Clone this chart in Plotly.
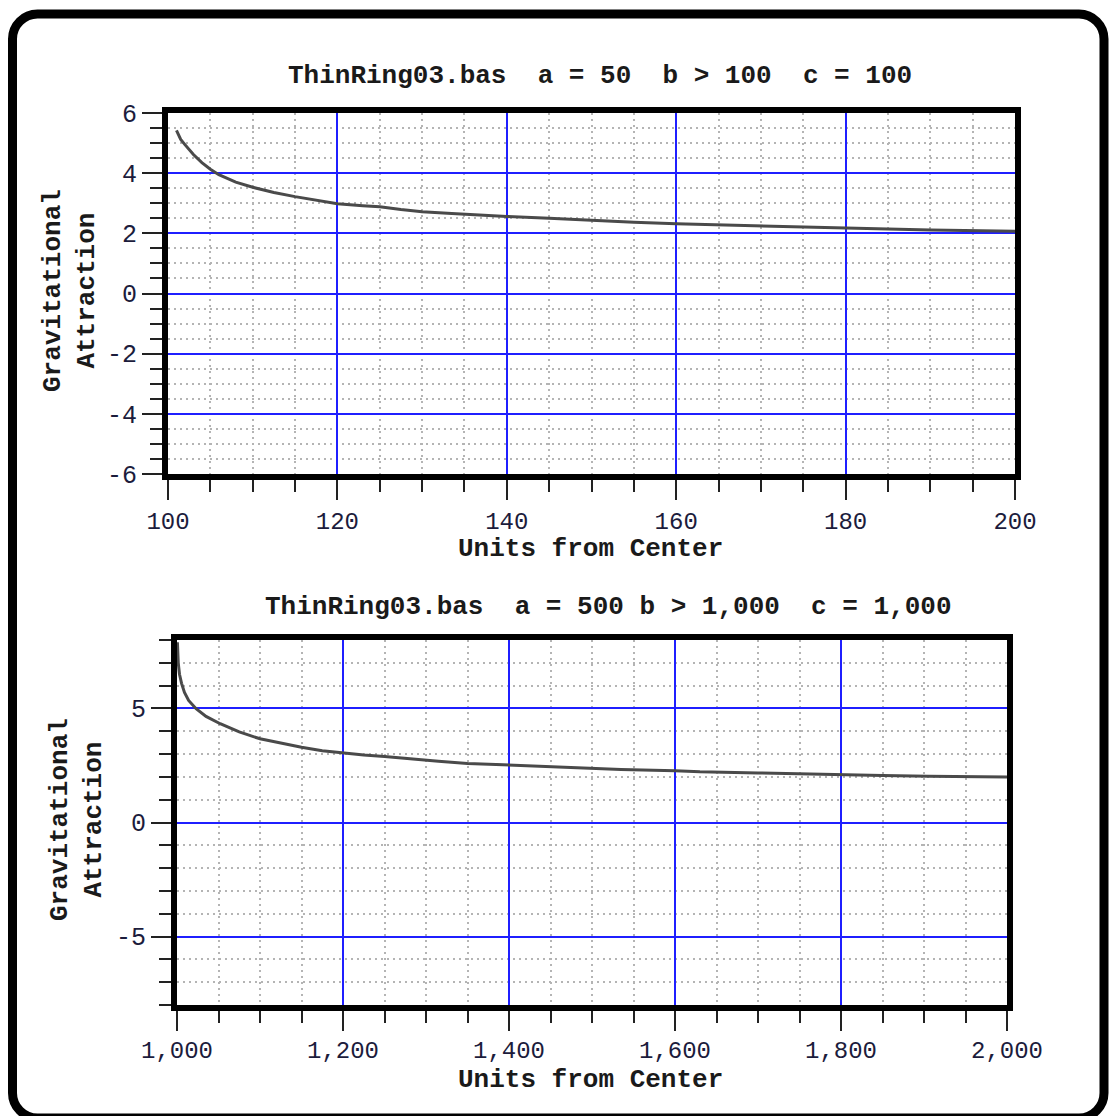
import plotly.graph_objects as go

W, H = 1109, 1116

# ---- data ----
top_title = "ThinRing03.bas  a = 50  b > 100  c = 100"
bot_title = "ThinRing03.bas  a = 500 b > 1,000  c = 1,000"
x_label = "Units from Center"
y_label = "Gravitational<br>Attraction"

top_x = [101, 101.5, 102, 103, 104, 105, 106, 107, 108, 110, 112.5, 115, 117.5, 120,
         123, 125, 127.5, 130, 133.5, 137.5, 140, 145, 150, 155, 160, 165, 170,
         175, 180, 185, 190, 195, 200]
top_y = [5.42, 5.12, 4.95, 4.62, 4.35, 4.13, 3.95, 3.82, 3.70, 3.53, 3.36, 3.22, 3.09, 2.98,
         2.92, 2.88, 2.79, 2.72, 2.66, 2.59, 2.56, 2.50, 2.43, 2.37, 2.32, 2.28, 2.24,
         2.20, 2.17, 2.14, 2.11, 2.09, 2.07]

bot_x = [1000.5, 1001.5, 1003, 1005.5, 1009, 1014, 1023, 1035, 1052, 1075, 1100, 1125,
         1150, 1175, 1200, 1225, 1250, 1280, 1315, 1350, 1400, 1465, 1535, 1600, 1630,
         1700, 1745, 1800, 1850, 1905, 1950, 2000]
bot_y = [7.9, 7.0, 6.5, 6.1, 5.7, 5.35, 4.99, 4.65, 4.33, 3.97, 3.67, 3.47,
         3.30, 3.15, 3.04, 2.96, 2.89, 2.78, 2.68, 2.59, 2.51, 2.42, 2.32, 2.27, 2.22,
         2.17, 2.13, 2.09, 2.06, 2.03, 2.01, 1.99]

top_xrange = [100, 200]
top_yrange = [-6, 6]
bot_xrange = [1000, 2000]
bot_yrange = [-8, 8]

top_yticks = [-6, -4, -2, 0, 2, 4, 6]
top_yticktext = ["-6", "-4", "-2", "0", "2", "4", "6"]
bot_yticks = [-5, 0, 5]
bot_yticktext = ["-5", "0", "5"]

# ---- styling ----
MONO = "Liberation Mono, Courier New, monospace"
TICK_COL = "#1c1c3c"
TXT_COL = "#1a1a1a"
BLUE = "#1f1fff"
MINOR_GRID = "#b4b4b4"


def px2x(p):
    return p / W


def px2y(p):
    return 1 - p / H


def axis_common(rng, dtick, minor_dtick, tick0=0, fmt=None, fsize=25):
    d = dict(
        range=rng, autorange=False, dtick=dtick, tick0=tick0,
        showline=True, linecolor="black", linewidth=6, mirror=True,
        ticks="outside", ticklen=20, tickwidth=2, tickcolor="#222222",
        showgrid=True, gridcolor=BLUE, gridwidth=2,
        zeroline=False, automargin=False,
        tickfont=dict(family=MONO, size=fsize, color=TICK_COL),
        minor=dict(dtick=minor_dtick, tick0=tick0, ticks="outside", ticklen=12,
                   tickwidth=2, tickcolor="#222222", showgrid=True,
                   gridcolor=MINOR_GRID, gridwidth=1.5, griddash="2px,4px"),
    )
    if fmt:
        d["tickformat"] = fmt
    return d


fig = go.Figure()
fig.add_trace(go.Scatter(x=top_x, y=top_y, mode="lines",
                         line=dict(color="#4a4a4a", width=3), xaxis="x", yaxis="y",
                         showlegend=False, hoverinfo="skip"))
fig.add_trace(go.Scatter(x=bot_x, y=bot_y, mode="lines",
                         line=dict(color="#4a4a4a", width=3), xaxis="x2", yaxis="y2",
                         showlegend=False, hoverinfo="skip"))

# domains from pixel geometry of the reference
top_xd = [px2x(168), px2x(1015)]
top_yd = [px2y(474), px2y(113)]
bot_xd = [px2x(177), px2x(1007)]
bot_yd = [px2y(1005), px2y(640)]

xa = axis_common(top_xrange, 20, 5, fsize=24)
xa.update(domain=top_xd, anchor="y")
ya = axis_common(top_yrange, 2, 0.5)
ya.update(domain=top_yd, anchor="x", tickmode="array", tickvals=top_yticks,
          ticktext=top_yticktext)
xa2 = axis_common(bot_xrange, 200, 50, tick0=0, fmt=",", fsize=24)
xa2.update(domain=bot_xd, anchor="y2", ticklabelstandoff=-2)
ya2 = axis_common(bot_yrange, 5, 1)
ya2.update(domain=bot_yd, anchor="x2", tickmode="array", tickvals=bot_yticks,
           ticktext=bot_yticktext)

# rounded outer frame (pixel geometry -> paper)
L, T, R, B, r = 12.5, 14, 1104, 1118, 25
k = 0.45
path = (
    f"M {px2x(L + r)},{px2y(T)} L {px2x(R - r)},{px2y(T)} "
    f"C {px2x(R - r * k)},{px2y(T)} {px2x(R)},{px2y(T + r * k)} {px2x(R)},{px2y(T + r)} "
    f"L {px2x(R)},{px2y(B - r)} "
    f"C {px2x(R)},{px2y(B - r * k)} {px2x(R - r * k)},{px2y(B)} {px2x(R - r)},{px2y(B)} "
    f"L {px2x(L + r)},{px2y(B)} "
    f"C {px2x(L + r * k)},{px2y(B)} {px2x(L)},{px2y(B - r * k)} {px2x(L)},{px2y(B - r)} "
    f"L {px2x(L)},{px2y(T + r)} "
    f"C {px2x(L)},{px2y(T + r * k)} {px2x(L + r * k)},{px2y(T)} {px2x(L + r)},{px2y(T)} Z"
)

title_font = dict(family=MONO, size=26, color=TXT_COL, weight="bold")

annotations = [
    dict(text=top_title, x=px2x(600), y=px2y(76), xref="paper", yref="paper",
         xanchor="center", yanchor="middle", showarrow=False, font=title_font),
    dict(text=bot_title, x=px2x(608), y=px2y(607), xref="paper", yref="paper",
         xanchor="center", yanchor="middle", showarrow=False, font=title_font),
    dict(text=x_label, x=px2x(590), y=px2y(549), xref="paper", yref="paper",
         xanchor="center", yanchor="middle", showarrow=False, font=title_font),
    dict(text=x_label, x=px2x(590), y=px2y(1080), xref="paper", yref="paper",
         xanchor="center", yanchor="middle", showarrow=False, font=title_font),
    dict(text=y_label, x=px2x(70), y=px2y(291), xref="paper", yref="paper",
         xanchor="center", yanchor="middle", showarrow=False, textangle=-90,
         font=title_font),
    dict(text=y_label, x=px2x(77), y=px2y(820), xref="paper", yref="paper",
         xanchor="center", yanchor="middle", showarrow=False, textangle=-90,
         font=title_font),
]

fig.update_layout(
    width=W, height=H,
    margin=dict(l=0, r=0, t=0, b=0, pad=0),
    paper_bgcolor="white", plot_bgcolor="white",
    xaxis=xa, yaxis=ya, xaxis2=xa2, yaxis2=ya2,
    annotations=annotations,
    shapes=[dict(type="path", path=path, xref="paper", yref="paper",
                 line=dict(color="black", width=9), fillcolor="rgba(0,0,0,0)",
                 layer="above")],
    showlegend=False,
)

fig.write_html("out.html")
